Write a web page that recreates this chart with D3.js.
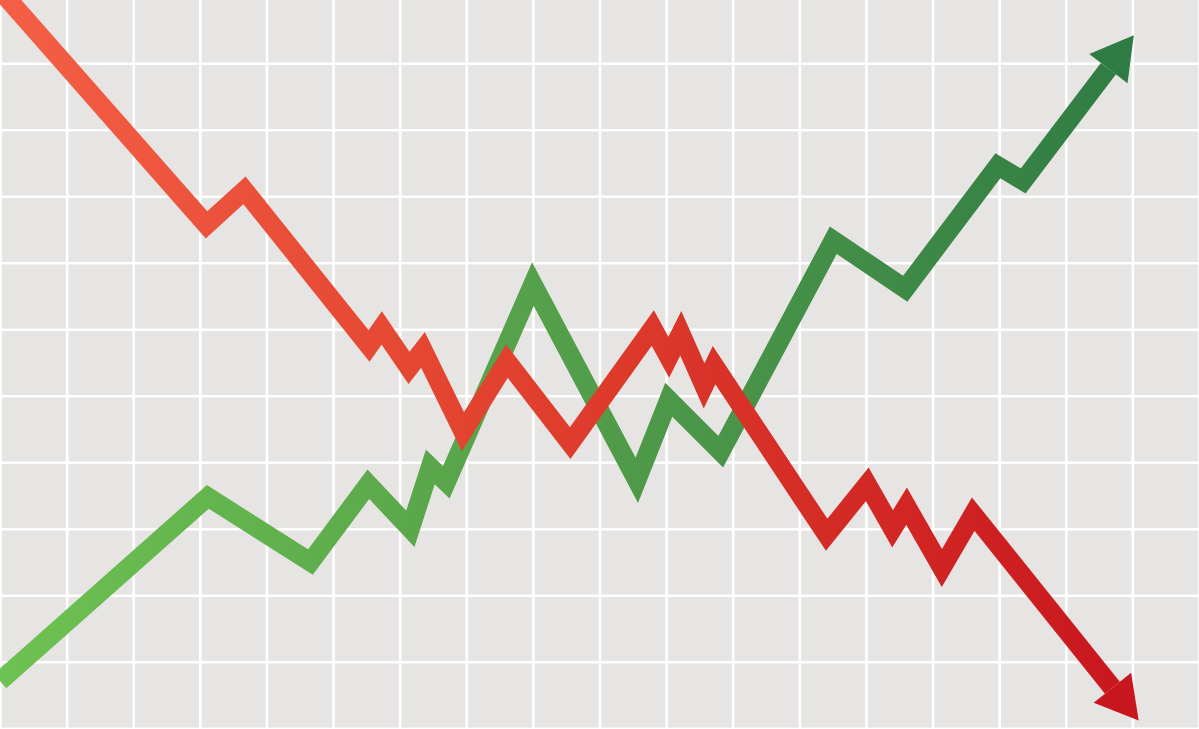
<!DOCTYPE html>
<html>
<head>
<meta charset="utf-8">
<script src="https://cdn.jsdelivr.net/npm/d3@7"></script>
<style>
  html, body { margin: 0; padding: 0; background: #e6e5e3; }
  svg { display: block; }
</style>
</head>
<body>
<svg id="chart" width="1199" height="729"></svg>
<script>
// ---- data (x: period index, y: price level in grid units) ----
const gridX = d3.range(0, 19);
const gridY = d3.range(0, 12);

const greenX = [0, 3.12, 4.66, 5.53, 6.16, 6.46, 6.70, 8.00, 9.56, 10.04, 10.82, 12.51, 13.59, 14.98, 15.36, 16.64];
const greenY = [0.71, 3.48, 2.50, 3.67, 3.00, 3.93, 3.70, 6.68, 3.73, 4.94, 4.16, 7.34, 6.61, 8.46, 8.23, 9.92];

const redX = [0, 3.10, 3.67, 5.54, 5.73, 6.14, 6.35, 6.95, 7.61, 8.56, 9.80, 10.04, 10.22, 10.57, 10.72, 12.41, 13.02, 13.40, 13.61, 14.14, 14.61, 16.70];
const redY = [11.10, 7.57, 8.09, 5.75, 6.02, 5.42, 5.69, 4.46, 5.52, 4.29, 6.02, 5.58, 5.94, 5.15, 5.46, 2.91, 3.67, 3.00, 3.34, 2.41, 3.22, 0.61];

const greenStops = [["0%", "#6ec251"], ["45%", "#55a04a"], ["95%", "#2f7b44"]];
const redStops = [["0%", "#f45f45"], ["40%", "#e2432f"], ["95%", "#c8161e"]];

// ---- layout ----
const W = 1199, H = 729;
const svg = d3.select("#chart");
const x = d3.scaleLinear().domain([0, 18]).range([0, W]);
const y = d3.scaleLinear().domain([0, 11]).range([728.3, -3.2]);

svg.append("rect").attr("width", W).attr("height", H).attr("fill", "#e6e5e3");

// grid via axes
const gx = svg.append("g").attr("transform", `translate(0,${H})`)
  .call(d3.axisBottom(x).tickValues(gridX).tickSize(-H - 10).tickFormat(""));
const gy = svg.append("g")
  .call(d3.axisLeft(y).tickValues(gridY).tickSize(-W - 10).tickFormat(""));
[gx, gy].forEach(g => {
  g.select(".domain").remove();
  g.selectAll("line").attr("stroke", "#ffffff").attr("stroke-width", 2.6);
});

const defs = svg.append("defs");
function grad(id, stops) {
  const g = defs.append("linearGradient").attr("id", id)
    .attr("gradientUnits", "userSpaceOnUse")
    .attr("x1", 0).attr("y1", 0).attr("x2", W).attr("y2", 0);
  stops.forEach(s => g.append("stop").attr("offset", s[0]).attr("stop-color", s[1]));
}
grad("gGreen", greenStops);
grad("gRed", redStops);

const line = d3.line().x(d => x(d[0])).y(d => y(d[1]));

function drawSeries(xs, ys, gradId, endColor) {
  const pts = xs.map((v, i) => [v, ys[i]]);
  svg.append("path")
    .attr("d", line(pts))
    .attr("fill", "none")
    .attr("stroke", `url(#${gradId})`)
    .attr("stroke-width", 19)
    .attr("stroke-linejoin", "miter")
    .attr("stroke-miterlimit", 12)
    .attr("stroke-linecap", "butt");
  // arrowhead from last segment direction
  const a = pts[pts.length - 2], b = pts[pts.length - 1];
  const ax = x(a[0]), ay = y(a[1]), bx = x(b[0]), by = y(b[1]);
  const dx = bx - ax, dy = by - ay, len = Math.hypot(dx, dy);
  const ux = dx / len, uy = dy / len, px = -uy, py = ux;
  const L = 42, hw = 24;
  const head = [
    [bx + ux * L, by + uy * L],
    [bx + px * hw, by + py * hw],
    [bx - px * hw, by - py * hw]
  ];
  svg.append("path")
    .attr("d", "M" + head.map(p => p.join(",")).join("L") + "Z")
    .attr("fill", endColor);
}

drawSeries(greenX, greenY, "gGreen", "#2f7b44");
drawSeries(redX, redY, "gRed", "#c8161e");
</script>
</body>
</html>
